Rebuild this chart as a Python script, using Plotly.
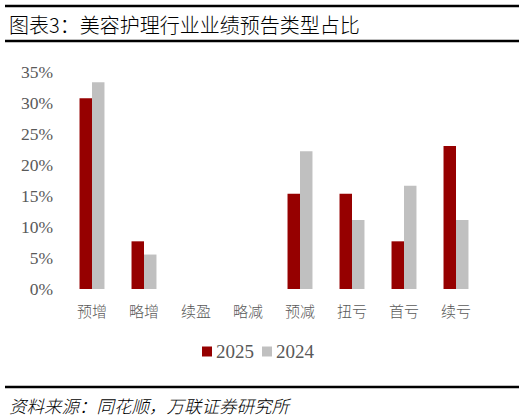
import plotly.graph_objects as go

categories = ["预增", "略增", "续盈", "略减", "预减", "扭亏", "首亏", "续亏"]
values_2025 = [30.77, 7.69, 0, 0, 15.38, 15.38, 7.69, 23.08]
values_2024 = [33.33, 5.56, 0, 0, 22.22, 11.11, 16.67, 11.11]
series_names = ["2025", "2024"]
series_colors = ["#960000", "#C0C0C0"]
y_ticks = [0, 5, 10, 15, 20, 25, 30, 35]

W, H = 527, 419
ml, mr, mt, mb = 66, 45, 72, 130
pw, ph = W - ml - mr, H - mt - mb

def px_x(px):
    return (px - ml) / pw

def px_y(py):
    return (H - mb - py) / ph

serif = "Liberation Serif, Times New Roman, serif"
cjk = "Noto Sans CJK SC"

fig = go.Figure()
fig.add_trace(go.Bar(x=categories, y=values_2025, name=series_names[0],
                     marker=dict(color=series_colors[0], line=dict(width=0))))
fig.add_trace(go.Bar(x=categories, y=values_2024, name=series_names[1],
                     marker=dict(color=series_colors[1], line=dict(width=0))))

fig.update_layout(
    width=W, height=H,
    margin=dict(l=ml, r=mr, t=mt, b=mb, autoexpand=False),
    paper_bgcolor="white", plot_bgcolor="white",
    barmode="group", bargap=0.52, bargroupgap=0,
    showlegend=False,
    xaxis=dict(showgrid=False, showline=False, zeroline=False, ticks="",
               ticklabelstandoff=12,
               tickfont=dict(family=cjk, size=15, color="#595959", weight=300)),
    yaxis=dict(range=[0, 35], tickvals=y_ticks, ticktext=[f"{v}%" for v in y_ticks],
               showgrid=False, showline=False, zeroline=False, ticks="",
               ticklabelstandoff=12,
               tickfont=dict(family=serif, size=17.5, color="#595959")),
    font=dict(family=cjk),
)

line_style = dict(color="black", width=2.5)
for py in [6, 41, 387]:
    fig.add_shape(type="line", xref="paper", yref="paper",
                  x0=px_x(5), x1=px_x(519), y0=px_y(py), y1=px_y(py), line=line_style)

# legend drawn to match reference spacing
legend_sq = [(202, 212), (262, 272)]
for (x0, x1), name, col in zip(legend_sq, series_names, series_colors):
    fig.add_shape(type="rect", xref="paper", yref="paper",
                  x0=px_x(x0), x1=px_x(x1), y0=px_y(356.5), y1=px_y(346.5),
                  fillcolor=col, line=dict(width=0))
    fig.add_annotation(text=name, xref="paper", yref="paper",
                       x=px_x(x1 + 1.5), y=px_y(351.5), xanchor="left", yanchor="middle",
                       showarrow=False, font=dict(family=serif, size=19, color="#595959"))

fig.add_annotation(text="图表3：美容护理行业业绩预告类型占比", xref="paper", yref="paper",
                   x=px_x(7), y=px_y(24), xanchor="left", yanchor="middle", showarrow=False,
                   font=dict(family=cjk, size=20, color="black", weight=300))
fig.add_annotation(text="<i>资料来源：同花顺，万联证券研究所</i>", xref="paper", yref="paper",
                   x=px_x(7), y=px_y(405), xanchor="left", yanchor="middle", showarrow=False,
                   font=dict(family=cjk, size=17.5, color="black", weight=300))

fig.write_html("out.html", config={"displayModeBar": False},
               post_script="document.body.style.margin='0';document.body.style.overflow='hidden';")
